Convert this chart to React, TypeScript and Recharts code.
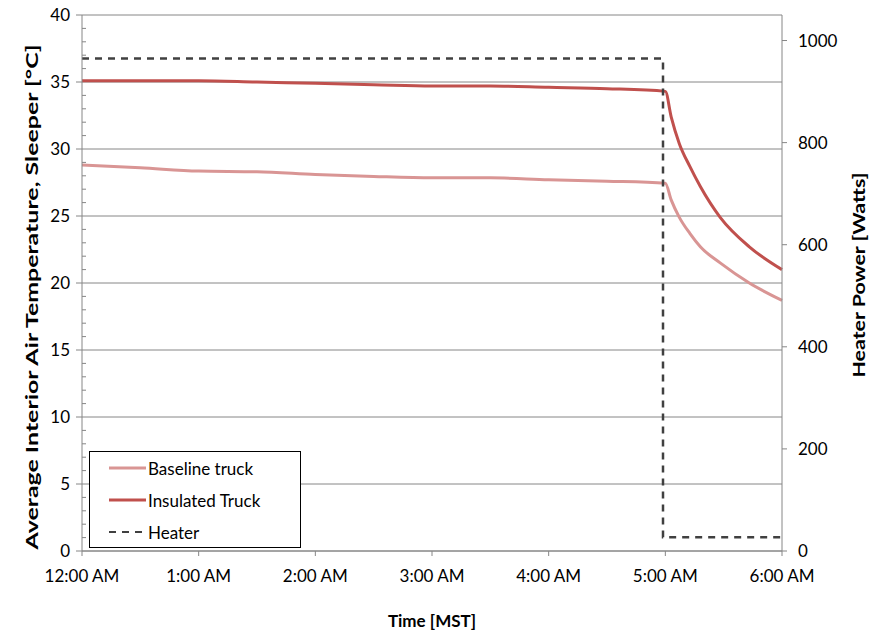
import React from 'react';
import { LineChart, Line, XAxis, YAxis, CartesianGrid, Label } from 'recharts';

// hours after midnight
const hours = [0, 0.5, 1, 1.5, 2, 2.5, 3, 3.5, 4, 4.5, 5, 5.05, 5.12, 5.21, 5.3, 5.47, 5.72, 6];
const baselineTemp = [28.8, 28.6, 28.35, 28.3, 28.1, 27.95, 27.85, 27.85, 27.7, 27.6, 27.45, 26.2, 24.9, 23.7, 22.7, 21.5, 20.0, 18.7];
const insulatedTemp = [35.1, 35.1, 35.1, 35.0, 34.9, 34.8, 34.7, 34.7, 34.6, 34.5, 34.3, 32.4, 30.4, 28.7, 27.2, 24.9, 22.7, 21.0];

const heaterHours = [0, 4.98, 4.98, 6];
const heaterWatts = [965, 965, 27, 27];

const timeTicks = [0, 1, 2, 3, 4, 5, 6];
const timeLabels = ['12:00 AM', '1:00 AM', '2:00 AM', '3:00 AM', '4:00 AM', '5:00 AM', '6:00 AM'];
const tempDomain = [0, 40];
const tempTicks = Array.from({ length: 41 }, (_, i) => i);
const tempMajor = [0, 5, 10, 15, 20, 25, 30, 35, 40];
const powerTicks = [0, 200, 400, 600, 800, 1000];

const series = [
  { key: 'baseline', name: 'Baseline truck', color: '#D99594', dash: undefined },
  { key: 'insulated', name: 'Insulated Truck', color: '#C0504D', dash: undefined },
  { key: 'heater', name: 'Heater', color: '#404040', dash: '7 6' },
];

const tempData = hours.map((t, i) => ({ t, baseline: baselineTemp[i], insulated: insulatedTemp[i] }));
const heaterData = heaterHours.map((t, i) => ({ t, heater: heaterWatts[i] }));

const FONT = 'Lato, "Open Sans", sans-serif';
const AXIS = '#868686';

const LeftTick = (props: any) => {
  const { x, y, payload } = props;
  const v = payload.value;
  const major = v % 5 === 0;
  return (
    <g>
      <line x1={major ? x - 6 : x} x2={major ? x : x + 4} y1={y} y2={y} stroke={AXIS} />
      {major && (
        <text x={x - 12} y={y} dy="0.35em" textAnchor="end" fontSize={17} fontFamily={FONT} fill="#000">
          {v}
        </text>
      )}
    </g>
  );
};

// major gridlines only (the axis itself carries minor ticks too)
const majorGrid = ({ yAxis, offset }: any) => {
  if (yAxis && typeof yAxis.scale === 'function') return tempMajor.map((v) => yAxis.scale(v));
  const [lo, hi] = tempDomain;
  return tempMajor.map((v) => offset.top + offset.height * (1 - (v - lo) / (hi - lo)));
};

// rotated axis title, stretched along its length like the original
const axisTitle = (text: string, cx: number, length: number, shift = 0) => (props: any) => {
  const vb = props.viewBox || {};
  const cy = vb.y + vb.height / 2 + shift;
  return (
    <text
      x={cx}
      y={cy}
      transform={`rotate(-90 ${cx} ${cy})`}
      textAnchor="middle"
      dominantBaseline="central"
      fontSize={17}
      fontWeight="bold"
      fontFamily={FONT}
      fill="#000"
      textLength={length}
      lengthAdjust="spacingAndGlyphs"
    >
      {text}
    </text>
  );
};

export default function App() {
  return (
    <div style={{ position: 'relative', width: 877, height: 630, margin: '-8px 0 0 -8px', fontFamily: FONT }}>
      <LineChart width={877} height={630} margin={{ top: 15, right: 0, bottom: 0, left: 0 }}>
        <CartesianGrid vertical={false} stroke={AXIS} horizontalCoordinatesGenerator={majorGrid} />
        <XAxis
          type="number"
          dataKey="t"
          domain={[0, 6]}
          ticks={timeTicks}
          tickFormatter={(v) => timeLabels[v]}
          allowDuplicatedCategory={false}
          height={79}
          stroke={AXIS}
          tickSize={5}
          tickMargin={14}
          tick={{ fill: '#000', fontSize: 17, fontFamily: FONT }}
        >
          <Label
            value="Time [MST]"
            position="insideBottom"
            offset={3}
            style={{ fontWeight: 'bold', fontSize: 17, fontFamily: FONT, fill: '#000' }}
          />
        </XAxis>
        <YAxis
          yAxisId="temp"
          domain={tempDomain}
          ticks={tempTicks}
          interval={0}
          width={82}
          stroke={AXIS}
          tickLine={false}
          tickSize={0}
          tickMargin={0}
          tick={<LeftTick />}
        >
          <Label content={axisTitle('Average Interior Air Temperature, Sleeper [°C]', 31, 505, 14)} />
        </YAxis>
        <YAxis
          yAxisId="power"
          orientation="right"
          domain={[0, 1050]}
          ticks={powerTicks}
          width={95}
          stroke={AXIS}
          tickSize={5}
          tickMargin={11}
          tick={{ fill: '#000', fontSize: 17, fontFamily: FONT }}
        >
          <Label content={axisTitle('Heater Power [Watts]', 858, 205, -8)} />
        </YAxis>
        <Line
          yAxisId="temp"
          data={tempData}
          dataKey="baseline"
          name="Baseline truck"
          type="monotone"
          stroke="#D99594"
          strokeWidth={3}
          dot={false}
          isAnimationActive={false}
        />
        <Line
          yAxisId="temp"
          data={tempData}
          dataKey="insulated"
          name="Insulated Truck"
          type="monotone"
          stroke="#C0504D"
          strokeWidth={3}
          dot={false}
          isAnimationActive={false}
        />
        <Line
          yAxisId="power"
          data={heaterData}
          dataKey="heater"
          name="Heater"
          type="linear"
          stroke="#404040"
          strokeWidth={2.5}
          strokeDasharray="7 6"
          dot={false}
          isAnimationActive={false}
        />
      </LineChart>
      <div
        style={{
          position: 'absolute',
          left: 89,
          top: 451,
          width: 210,
          height: 95,
          border: '1px solid #000',
          background: '#fff',
          fontSize: 17,
        }}
      >
        {series.map((s, i) => (
          <div
            key={s.key}
            style={{ position: 'absolute', left: 0, top: 5 + i * 32, height: 22, display: 'flex', alignItems: 'center' }}
          >
            <svg width={58} height={22}>
              <line
                x1={19}
                x2={56}
                y1={11}
                y2={11}
                stroke={s.color}
                strokeWidth={s.dash ? 2 : 3}
                strokeDasharray={s.dash}
              />
            </svg>
            <span style={{ whiteSpace: 'nowrap' }}>{s.name}</span>
          </div>
        ))}
      </div>
    </div>
  );
}
